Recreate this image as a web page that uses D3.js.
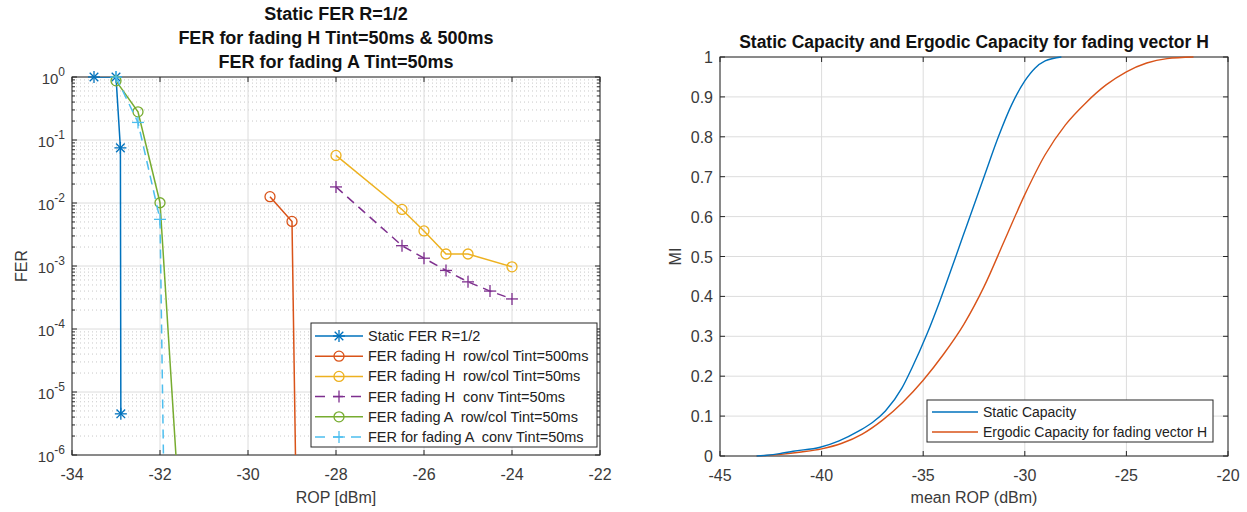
<!DOCTYPE html>
<html>
<head>
<meta charset="utf-8">
<script src="https://cdn.jsdelivr.net/npm/d3@7"></script>
<style>
body { margin: 0; background: #fff; }
svg { font-family: "Liberation Sans", Arial, sans-serif; }
text { white-space: pre; }
</style>
</head>
<body>
<svg id="chart" width="1247" height="512"></svg>
<script>
// ---- left chart data (FER vs ROP) ----
var staticX  = [-33.5, -33, -32.9, -32.89];
var staticY  = [1, 1, 0.075, 4.5e-6];
var fadH500X = [-29.5, -29, -28.9];
var fadH500Y = [0.0126, 0.0051, 1e-7];
var fadH50X  = [-28, -26.5, -26, -25.5, -25, -24];
var fadH50Y  = [0.057, 0.0079, 0.0036, 0.00155, 0.00155, 0.00097];
var convH50X = [-28, -26.5, -26, -25.5, -25, -24.5, -24];
var convH50Y = [0.018, 0.0021, 0.00133, 0.00085, 0.00056, 0.0004, 0.0003];
var fadA50X  = [-33, -32.5, -32, -31.5];
var fadA50Y  = [0.87, 0.28, 0.0101, 3e-8];
var convA50X = [-33, -32.5, -32, -31.88];
var convA50Y = [1, 0.19, 0.0055, 1e-8];
var leftXTicks = [-34, -32, -30, -28, -26, -24, -22];
var leftYExp = [0, -1, -2, -3, -4, -5, -6];

// ---- right chart data (MI vs mean ROP) ----
var ropStatic = [-43.2, -42.7, -42.07, -41.4, -40.07, -39.14, -38.16, -37.5, -36.86, -36.05, -35.56, -34.82, -34.17, -33.43, -33.05, -32.72, -31.97, -31.3, -30.65, -30.0, -29.5, -29.0, -28.2];
var miStatic  = [0, 0.002, 0.006, 0.012, 0.022, 0.038, 0.063, 0.084, 0.113, 0.17, 0.22, 0.305, 0.39, 0.495, 0.55, 0.597, 0.705, 0.80, 0.88, 0.94, 0.972, 0.99, 1.0];
var ropErgodic = [-43.2, -42, -41, -40, -39, -38, -37, -36, -35, -34, -33, -32, -31, -30, -29, -28, -27, -26, -25, -24, -23, -21.7];
var miErgodic  = [0, 0.004, 0.01, 0.018, 0.032, 0.055, 0.09, 0.135, 0.19, 0.255, 0.33, 0.425, 0.54, 0.655, 0.755, 0.83, 0.885, 0.93, 0.963, 0.985, 0.996, 1.0];
var rightXTicks = [-45, -40, -35, -30, -25, -20];
var rightYTicks = [0, 0.1, 0.2, 0.3, 0.4, 0.5, 0.6, 0.7, 0.8, 0.9, 1];

var axisCol = "#262626", gridCol = "#dcdcdc", labCol = "#3a3a3a";

var svg = d3.select("#chart");

function zip(xs, ys) { return xs.map(function(x, i) { return {x: x, y: ys[i]}; }); }

// ================= LEFT =================
var L = {left: 72, right: 600, top: 77, bottom: 455};
var xL = d3.scaleLinear().domain([-34, -22]).range([L.left, L.right]);
var yL = d3.scaleLog().domain([1e-6, 1]).range([L.bottom, L.top]);

var gL = svg.append("g");
svg.append("clipPath").attr("id", "clipL").append("rect")
    .attr("x", L.left).attr("y", L.top).attr("width", L.right - L.left).attr("height", L.bottom - L.top);

// minor y grid (dotted)
var minorY = [];
leftYExp.slice(1).forEach(function(e) {
  for (var m = 2; m <= 9; m++) minorY.push(m * Math.pow(10, e));
});
gL.selectAll(".minY").data(minorY).enter().append("line")
    .attr("x1", L.left).attr("x2", L.right)
    .attr("y1", function(d) { return yL(d); }).attr("y2", function(d) { return yL(d); })
    .attr("stroke", "#c8c8c8").attr("stroke-width", 1).attr("stroke-dasharray", "1,3");
// major grid
gL.selectAll(".majY").data(leftYExp).enter().append("line")
    .attr("x1", L.left).attr("x2", L.right)
    .attr("y1", function(e) { return yL(Math.pow(10, e)); }).attr("y2", function(e) { return yL(Math.pow(10, e)); })
    .attr("stroke", gridCol);
gL.selectAll(".majX").data(leftXTicks).enter().append("line")
    .attr("y1", L.top).attr("y2", L.bottom)
    .attr("x1", function(d) { return xL(d); }).attr("x2", function(d) { return xL(d); })
    .attr("stroke", gridCol);

// box + ticks
gL.append("rect").attr("x", L.left).attr("y", L.top).attr("width", L.right - L.left).attr("height", L.bottom - L.top)
    .attr("fill", "none").attr("stroke", axisCol).attr("stroke-width", 1);
leftXTicks.forEach(function(d) {
  gL.append("line").attr("x1", xL(d)).attr("x2", xL(d)).attr("y1", L.bottom).attr("y2", L.bottom - 5).attr("stroke", axisCol);
  gL.append("line").attr("x1", xL(d)).attr("x2", xL(d)).attr("y1", L.top).attr("y2", L.top + 5).attr("stroke", axisCol);
  gL.append("text").attr("x", xL(d)).attr("y", L.bottom + 25).attr("text-anchor", "middle")
      .attr("font-size", 16).attr("fill", labCol).text(d);
});
leftYExp.forEach(function(e) {
  var y = yL(Math.pow(10, e));
  gL.append("line").attr("x1", L.left).attr("x2", L.left + 5).attr("y1", y).attr("y2", y).attr("stroke", axisCol);
  gL.append("line").attr("x1", L.right).attr("x2", L.right - 5).attr("y1", y).attr("y2", y).attr("stroke", axisCol);
  var t = gL.append("text").attr("x", L.left - 7).attr("y", y + 7).attr("text-anchor", "end")
      .attr("font-size", 15).attr("fill", labCol);
  t.append("tspan").text("10");
  t.append("tspan").attr("dy", -8).attr("font-size", 12).text(e);
});
minorY.forEach(function(d) {
  gL.append("line").attr("x1", L.left).attr("x2", L.left + 3).attr("y1", yL(d)).attr("y2", yL(d)).attr("stroke", axisCol);
  gL.append("line").attr("x1", L.right).attr("x2", L.right - 3).attr("y1", yL(d)).attr("y2", yL(d)).attr("stroke", axisCol);
});

// titles / labels
var titleL = ["Static FER R=1/2", "FER for fading H Tint=50ms & 500ms", "FER for fading A Tint=50ms"];
titleL.forEach(function(s, i) {
  svg.append("text").attr("x", (L.left + L.right) / 2).attr("y", 20 + i * 24).attr("text-anchor", "middle")
      .attr("font-size", 18).attr("font-weight", "bold").attr("fill", "#111").text(s);
});
svg.append("text").attr("x", (L.left + L.right) / 2).attr("y", 503).attr("text-anchor", "middle")
    .attr("font-size", 16).attr("fill", labCol).text("ROP [dBm]");
svg.append("text").attr("transform", "translate(27," + ((L.top + L.bottom) / 2) + ") rotate(-90)")
    .attr("text-anchor", "middle").attr("font-size", 16).attr("fill", labCol).text("FER");

// series
var seriesL = [
  {name: "Static FER R=1/2", data: zip(staticX, staticY), color: "#0072BD", marker: "star", dash: null},
  {name: "FER fading H  row/col Tint=500ms", data: zip(fadH500X, fadH500Y), color: "#D95319", marker: "circle", dash: null},
  {name: "FER fading H  row/col Tint=50ms", data: zip(fadH50X, fadH50Y), color: "#EDB120", marker: "circle", dash: null},
  {name: "FER fading H  conv Tint=50ms", data: zip(convH50X, convH50Y), color: "#7E2F8E", marker: "plus", dash: "9,6"},
  {name: "FER fading A  row/col Tint=50ms", data: zip(fadA50X, fadA50Y), color: "#77AC30", marker: "circle", dash: null},
  {name: "FER for fading A  conv Tint=50ms", data: zip(convA50X, convA50Y), color: "#4DBEEE", marker: "plus", dash: "9,6"}
];

function drawMarker(g, type, cx, cy, color) {
  if (type === "circle") {
    g.append("circle").attr("cx", cx).attr("cy", cy).attr("r", 5).attr("fill", "none").attr("stroke", color).attr("stroke-width", 1.3);
  } else {
    var s = 6;
    g.append("line").attr("x1", cx - s).attr("x2", cx + s).attr("y1", cy).attr("y2", cy).attr("stroke", color).attr("stroke-width", 1.3);
    g.append("line").attr("x1", cx).attr("x2", cx).attr("y1", cy - s).attr("y2", cy + s).attr("stroke", color).attr("stroke-width", 1.3);
    if (type === "star") {
      var k = 4.3;
      g.append("line").attr("x1", cx - k).attr("x2", cx + k).attr("y1", cy - k).attr("y2", cy + k).attr("stroke", color).attr("stroke-width", 1.3);
      g.append("line").attr("x1", cx - k).attr("x2", cx + k).attr("y1", cy + k).attr("y2", cy - k).attr("stroke", color).attr("stroke-width", 1.3);
    }
  }
}

var lineL = d3.line().x(function(d) { return xL(d.x); }).y(function(d) { return yL(d.y); });
seriesL.forEach(function(s) {
  gL.append("path").datum(s.data).attr("d", lineL).attr("clip-path", "url(#clipL)")
      .attr("fill", "none").attr("stroke", s.color).attr("stroke-width", 1.5)
      .attr("stroke-dasharray", s.dash);
  s.data.filter(function(d) { return d.y >= 1e-6 && d.y <= 1; }).forEach(function(d) {
    drawMarker(gL, s.marker, xL(d.x), yL(d.y), s.color);
  });
});

// legend left
var lgL = svg.append("g");
lgL.append("rect").attr("x", 311).attr("y", 323).attr("width", 286).attr("height", 124)
    .attr("fill", "#fff").attr("stroke", axisCol);
seriesL.forEach(function(s, i) {
  var y = 336 + i * 20.2;
  lgL.append("line").attr("x1", 315).attr("x2", 363).attr("y1", y).attr("y2", y)
      .attr("stroke", s.color).attr("stroke-width", 1.5).attr("stroke-dasharray", s.dash ? "10,8" : null);
  drawMarker(lgL, s.marker, 339, y, s.color);
  lgL.append("text").attr("x", 368).attr("y", y + 5).attr("font-size", 14.5).attr("fill", "#222").text(s.name);
});

// ================= RIGHT =================
var R = {left: 720, right: 1228, top: 57, bottom: 456};
var xR = d3.scaleLinear().domain([-45, -20]).range([R.left, R.right]);
var yR = d3.scaleLinear().domain([0, 1]).range([R.bottom, R.top]);
var gR = svg.append("g");

rightXTicks.forEach(function(d) {
  gR.append("line").attr("x1", xR(d)).attr("x2", xR(d)).attr("y1", R.top).attr("y2", R.bottom).attr("stroke", gridCol);
});
rightYTicks.forEach(function(d) {
  gR.append("line").attr("x1", R.left).attr("x2", R.right).attr("y1", yR(d)).attr("y2", yR(d)).attr("stroke", gridCol);
});
gR.append("rect").attr("x", R.left).attr("y", R.top).attr("width", R.right - R.left).attr("height", R.bottom - R.top)
    .attr("fill", "none").attr("stroke", axisCol);
rightXTicks.forEach(function(d) {
  gR.append("line").attr("x1", xR(d)).attr("x2", xR(d)).attr("y1", R.bottom).attr("y2", R.bottom - 5).attr("stroke", axisCol);
  gR.append("line").attr("x1", xR(d)).attr("x2", xR(d)).attr("y1", R.top).attr("y2", R.top + 5).attr("stroke", axisCol);
  gR.append("text").attr("x", xR(d)).attr("y", R.bottom + 25).attr("text-anchor", "middle")
      .attr("font-size", 16).attr("fill", labCol).text(d);
});
rightYTicks.forEach(function(d) {
  gR.append("line").attr("x1", R.left).attr("x2", R.left + 5).attr("y1", yR(d)).attr("y2", yR(d)).attr("stroke", axisCol);
  gR.append("line").attr("x1", R.right).attr("x2", R.right - 5).attr("y1", yR(d)).attr("y2", yR(d)).attr("stroke", axisCol);
  gR.append("text").attr("x", R.left - 7).attr("y", yR(d) + 6).attr("text-anchor", "end")
      .attr("font-size", 16).attr("fill", labCol).text(d3.format("~g")(d));
});

svg.append("text").attr("x", (R.left + R.right) / 2).attr("y", 48).attr("text-anchor", "middle")
    .attr("font-size", 17.5).attr("font-weight", "bold").attr("fill", "#111")
    .text("Static Capacity and Ergodic Capacity for fading vector H");
svg.append("text").attr("x", (R.left + R.right) / 2).attr("y", 503).attr("text-anchor", "middle")
    .attr("font-size", 16).attr("fill", labCol).text("mean ROP (dBm)");
svg.append("text").attr("transform", "translate(681," + ((R.top + R.bottom) / 2) + ") rotate(-90)")
    .attr("text-anchor", "middle").attr("font-size", 16).attr("fill", labCol).text("MI");

var seriesR = [
  {name: "Static Capacity", data: zip(ropStatic, miStatic), color: "#0072BD"},
  {name: "Ergodic Capacity for fading vector H", data: zip(ropErgodic, miErgodic), color: "#D95319"}
];
var lineR = d3.line().curve(d3.curveMonotoneX).x(function(d) { return xR(d.x); }).y(function(d) { return yR(d.y); });
seriesR.slice().reverse().forEach(function(s) {
  gR.append("path").datum(s.data).attr("d", lineR).attr("fill", "none")
      .attr("stroke", s.color).attr("stroke-width", 1.4);
});

var lgR = svg.append("g");
lgR.append("rect").attr("x", 927).attr("y", 400).attr("width", 286).attr("height", 42)
    .attr("fill", "#fff").attr("stroke", axisCol);
seriesR.forEach(function(s, i) {
  var y = 412 + i * 20;
  lgR.append("line").attr("x1", 932).attr("x2", 978).attr("y1", y).attr("y2", y)
      .attr("stroke", s.color).attr("stroke-width", 1.4);
  lgR.append("text").attr("x", 983).attr("y", y + 5).attr("font-size", 14).attr("fill", "#222").text(s.name);
});
</script>
</body>
</html>
